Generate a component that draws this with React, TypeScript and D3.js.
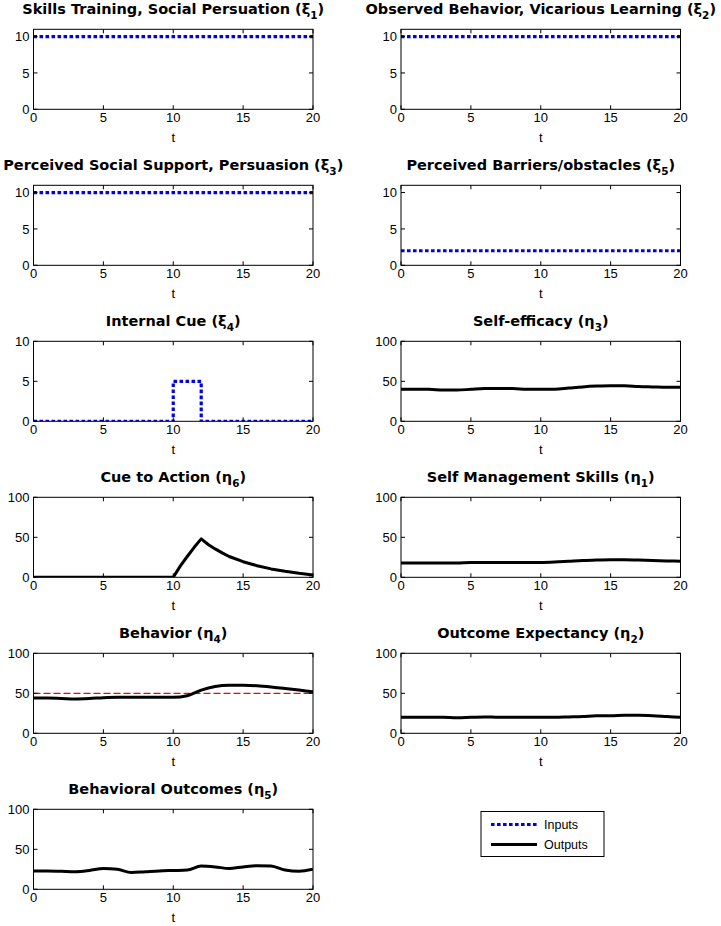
import React from "react";
import * as d3 from "d3";

// ---------- DATA ----------
const tFull = d3.range(0, 21); // 0..20
const constT = [0, 20];
const xi1 = [10, 10];
const xi2 = [10, 10];
const xi3 = [10, 10];
const xi5 = [2, 2];
const xi4T = [0, 10, 10, 12, 12, 20];
const xi4 = [0, 0, 5, 5, 0, 0];
const eta3 = [40, 40, 40, 39, 39, 40, 41, 41, 41, 40, 40, 40, 41.5, 43, 44, 44.5, 44.5, 43.5, 43, 42.5, 42.5];
const eta6T = [0, 10, 10.5, 11, 11.5, 12, 12.5, 13, 13.5, 14, 15, 16, 17, 18, 19, 20];
const eta6 = [0, 0, 14, 26, 37.5, 48, 41, 35.5, 30.5, 26, 19.5, 14.5, 10.5, 7.5, 5, 3];
const eta1 = [18, 18, 18, 18, 18, 18.5, 18.5, 18.5, 18.5, 18.5, 18.5, 19, 20, 21, 21.5, 22, 22, 21.5, 21, 20.5, 20];
const eta4 = [44, 44, 43.5, 43, 43.5, 44.5, 45, 45, 45, 45, 45, 47, 54, 58.5, 60, 60, 59.5, 58, 56, 54, 52];
const eta4Ref = [50, 50];
const eta2 = [20, 20, 20, 20, 19.5, 20, 20.5, 20, 20, 20, 20, 20, 20.5, 21, 22, 22, 22.5, 22.5, 22, 21, 20];
const eta5 = [23, 23, 22.5, 22, 23.5, 26, 25, 21, 22, 23, 23.5, 24, 29, 28, 26, 28, 29.5, 29, 24, 22.5, 25];
const xTicks = [0, 5, 10, 15, 20];
const inputYTicks = [0, 5, 10];
const outputYTicks = [0, 50, 100];
const legendLabels = ["Inputs", "Outputs"];

type Series = { t: number[]; v: number[]; kind: "in" | "out" | "ref"; curve?: "linear" | "smooth" };
type Panel = {
  title: string;
  greek: string;
  sub: string;
  col: number;
  row: number;
  yMax: number;
  yTicks: number[];
  series: Series[];
};

const panels: Panel[] = [
  { title: "Skills Training, Social Persuation (", greek: "ξ", sub: "1", col: 0, row: 0, yMax: 11, yTicks: inputYTicks, series: [{ t: constT, v: xi1, kind: "in" }] },
  { title: "Observed Behavior, Vicarious Learning (", greek: "ξ", sub: "2", col: 1, row: 0, yMax: 11, yTicks: inputYTicks, series: [{ t: constT, v: xi2, kind: "in" }] },
  { title: "Perceived Social Support, Persuasion (", greek: "ξ", sub: "3", col: 0, row: 1, yMax: 11, yTicks: inputYTicks, series: [{ t: constT, v: xi3, kind: "in" }] },
  { title: "Perceived Barriers/obstacles (", greek: "ξ", sub: "5", col: 1, row: 1, yMax: 11, yTicks: inputYTicks, series: [{ t: constT, v: xi5, kind: "in" }] },
  { title: "Internal Cue (", greek: "ξ", sub: "4", col: 0, row: 2, yMax: 10, yTicks: inputYTicks, series: [{ t: xi4T, v: xi4, kind: "in" }] },
  { title: "Self-efficacy (", greek: "η", sub: "3", col: 1, row: 2, yMax: 100, yTicks: outputYTicks, series: [{ t: tFull, v: eta3, kind: "out", curve: "smooth" }] },
  { title: "Cue to Action (", greek: "η", sub: "6", col: 0, row: 3, yMax: 100, yTicks: outputYTicks, series: [{ t: eta6T, v: eta6, kind: "out", curve: "linear" }] },
  { title: "Self Management Skills (", greek: "η", sub: "1", col: 1, row: 3, yMax: 100, yTicks: outputYTicks, series: [{ t: tFull, v: eta1, kind: "out", curve: "smooth" }] },
  { title: "Behavior (", greek: "η", sub: "4", col: 0, row: 4, yMax: 100, yTicks: outputYTicks, series: [{ t: constT, v: eta4Ref, kind: "ref" }, { t: tFull, v: eta4, kind: "out", curve: "smooth" }] },
  { title: "Outcome Expectancy (", greek: "η", sub: "2", col: 1, row: 4, yMax: 100, yTicks: outputYTicks, series: [{ t: tFull, v: eta2, kind: "out", curve: "smooth" }] },
  { title: "Behavioral Outcomes (", greek: "η", sub: "5", col: 0, row: 5, yMax: 100, yTicks: outputYTicks, series: [{ t: tFull, v: eta5, kind: "out", curve: "smooth" }] },
];

// ---------- LAYOUT ----------
const W = 721;
const H = 926;
const colX = [33.5, 401];
const plotW = 279.5;
const rowTop0 = 29.3;
const rowStep = 156;
const plotH = 80;
const FONT = "'Liberation Sans', Arial, Helvetica, sans-serif";
const TFONT = "'DejaVu Sans', Verdana, sans-serif";
const BLUE = "#0000f0";

function PanelView({ p, idx }: { p: Panel; idx: number }) {
  const x0 = colX[p.col];
  const y0 = rowTop0 + p.row * rowStep;
  const xs = d3.scaleLinear().domain([0, 20]).range([x0, x0 + plotW]);
  const ys = d3.scaleLinear().domain([0, p.yMax]).range([y0 + plotH, y0]);
  const clipId = `clip${idx}`;
  const tick = 4;
  return (
    <g>
      <defs>
        <clipPath id={clipId}>
          <rect x={x0} y={y0} width={plotW} height={plotH} />
        </clipPath>
      </defs>
      <rect x={x0} y={y0} width={plotW} height={plotH} fill="#fff" />
      <g clipPath={`url(#${clipId})`}>
        {p.series.map((s, i) => {
          const pts = s.t.map((t, j) => [t, s.v[j]] as [number, number]);
          const gen = d3
            .line<[number, number]>()
            .x((d) => xs(d[0]))
            .y((d) => ys(d[1]))
            .curve(s.curve === "smooth" ? d3.curveMonotoneX : d3.curveLinear);
          const path = gen(pts) || "";
          if (s.kind === "in")
            return <path key={i} d={path} fill="none" stroke={BLUE} strokeWidth={3.2} strokeDasharray="3.6,2.4" />;
          if (s.kind === "ref")
            return <path key={i} d={path} fill="none" stroke="#ff0000" strokeWidth={1.2} strokeDasharray="7,3" />;
          return <path key={i} d={path} fill="none" stroke="#000" strokeWidth={3} strokeLinejoin="round" />;
        })}
      </g>
      <rect x={x0} y={y0} width={plotW} height={plotH} fill="none" stroke="#000" strokeWidth={1} />
      {xTicks.map((t) => (
        <g key={"x" + t}>
          <line x1={xs(t)} x2={xs(t)} y1={y0 + plotH} y2={y0 + plotH - tick} stroke="#000" />
          <line x1={xs(t)} x2={xs(t)} y1={y0} y2={y0 + tick} stroke="#000" />
          <text x={xs(t)} y={y0 + plotH + 13} textAnchor="middle" fontSize={13} fontFamily={FONT}>
            {t}
          </text>
        </g>
      ))}
      {p.yTicks.map((v) => (
        <g key={"y" + v}>
          <line x1={x0} x2={x0 + tick} y1={ys(v)} y2={ys(v)} stroke="#000" />
          <line x1={x0 + plotW} x2={x0 + plotW - tick} y1={ys(v)} y2={ys(v)} stroke="#000" />
          <text x={x0 - 4} y={ys(v) + 4.6} textAnchor="end" fontSize={13} fontFamily={FONT}>
            {v}
          </text>
        </g>
      ))}
      <text x={x0 + plotW / 2} y={y0 + plotH + 33} textAnchor="middle" fontSize={13} fontFamily={FONT}>
        t
      </text>
      <text x={x0 + plotW / 2} y={y0 - 15} textAnchor="middle" fontSize={14.5} fontWeight="bold" fontFamily={TFONT}>
        <tspan>{p.title}</tspan>
        <tspan>{p.greek}</tspan>
        <tspan dy={5} fontSize={10.5}>
          {p.sub}
        </tspan>
        <tspan dy={-5}>)</tspan>
      </text>
    </g>
  );
}

function Legend() {
  const lx = 481;
  const ly = 811.5;
  const lw = 123;
  const lh = 45;
  const rows = [
    { label: legendLabels[0], kind: "in" },
    { label: legendLabels[1], kind: "out" },
  ];
  return (
    <g>
      <rect x={lx} y={ly} width={lw} height={lh} fill="#fff" stroke="#000" strokeWidth={1} />
      {rows.map((r, i) => {
        const yy = ly + 13 + i * 20;
        return (
          <g key={r.label}>
            <line
              x1={lx + 10}
              x2={lx + 56}
              y1={yy}
              y2={yy}
              stroke={r.kind === "in" ? BLUE : "#000"}
              strokeWidth={r.kind === "in" ? 3.2 : 3}
              strokeDasharray={r.kind === "in" ? "3.6,2.4" : undefined}
            />
            <text x={lx + 63} y={yy + 4.3} fontSize={12.5} fontFamily={FONT}>
              {r.label}
            </text>
          </g>
        );
      })}
    </g>
  );
}

export default function App() {
  return (
    <svg
      width={W}
      height={H}
      viewBox={`0 0 ${W} ${H}`}
      style={{ position: "absolute", left: 0, top: 0, background: "#fff" }}
    >
      <rect x={0} y={0} width={W} height={H} fill="#fff" />
      {panels.map((p, i) => (
        <PanelView key={i} p={p} idx={i} />
      ))}
      <Legend />
    </svg>
  );
}
